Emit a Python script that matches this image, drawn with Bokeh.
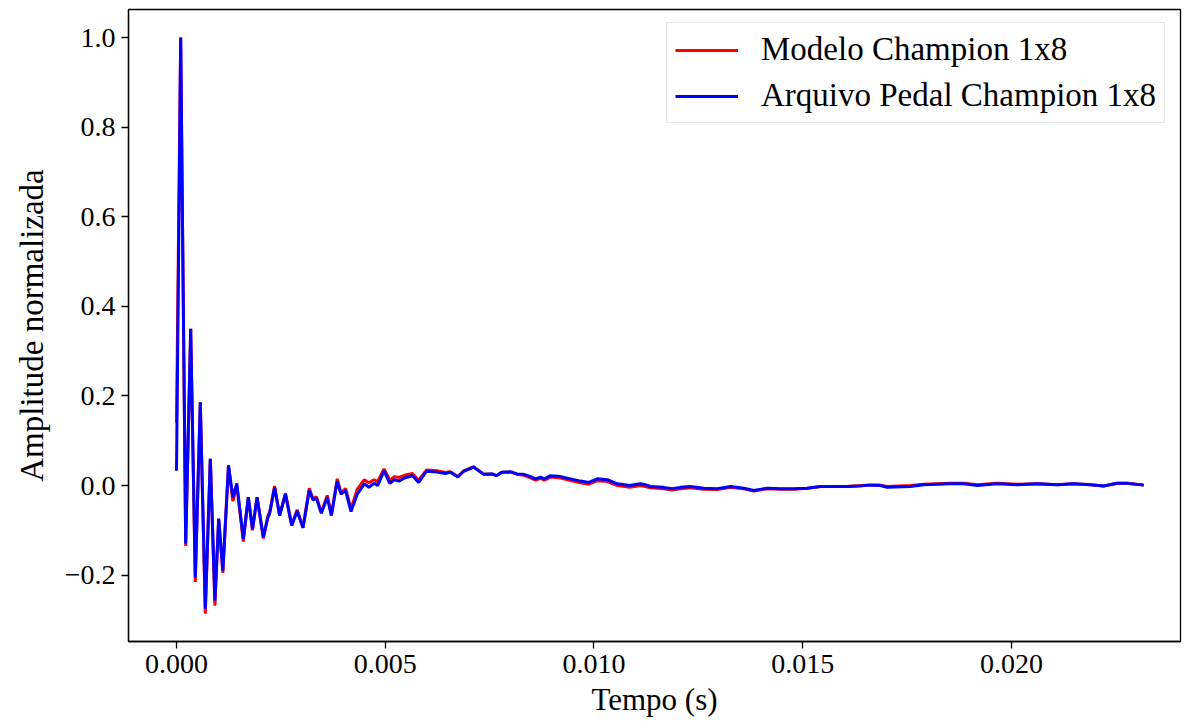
from bokeh.plotting import figure
from bokeh.models import FixedTicker, Range1d, Legend, LegendItem, ColumnDataSource
from bokeh.embed import file_html
from bokeh.resources import INLINE

# Impulse responses (time in seconds, normalized amplitude)
tempo = [
    0.00000, 0.00010, 0.00022, 0.00034, 0.00045, 0.00057, 0.00069, 0.00081, 0.00092, 0.00101,
    0.00111, 0.001245, 0.00135, 0.001445, 0.00160, 0.00172, 0.00182, 0.00193, 0.00208, 0.00219,
    0.00223, 0.00235, 0.00247, 0.00261, 0.00276, 0.00289, 0.00303, 0.00318, 0.00327, 0.00335,
    0.00347, 0.00361, 0.00371, 0.00385, 0.00394, 0.00405, 0.00418, 0.00433, 0.00450, 0.00461,
    0.00473, 0.00482, 0.00497, 0.00511, 0.00522, 0.00533, 0.00546, 0.00565, 0.00580, 0.00599,
    0.00624, 0.00644, 0.00656, 0.00674, 0.00688, 0.00712, 0.00736, 0.00756, 0.00766, 0.00780,
    0.00800, 0.00816, 0.00832, 0.00848, 0.00860, 0.00872, 0.00881, 0.00896, 0.00920, 0.00944,
    0.00968, 0.00988, 0.01008, 0.01032, 0.01056, 0.01086, 0.01111, 0.01123, 0.01135, 0.01167,
    0.01187, 0.01207, 0.01231, 0.01263, 0.01295, 0.01327, 0.01359, 0.01383, 0.01415, 0.01447,
    0.01479, 0.01511, 0.01543, 0.01574, 0.01606, 0.01638, 0.01658, 0.01686, 0.01702, 0.01758,
    0.01790, 0.01854, 0.01886, 0.01918, 0.01966, 0.02014, 0.02062, 0.02110, 0.02149, 0.02189,
    0.02221, 0.02253, 0.02277, 0.02317,
]

modelo = [
    0.140, 1.000, -0.135, 0.350, -0.215, 0.186, -0.286, 0.060, -0.268, -0.074,
    -0.195, 0.045, -0.035, 0.000, -0.125, -0.026, -0.100, -0.026, -0.118, -0.067,
    -0.060, -0.001, -0.067, -0.017, -0.089, -0.054, -0.094, -0.006, -0.030, -0.025,
    -0.060, -0.022, -0.065, 0.015, -0.016, -0.007, -0.052, -0.008, 0.013, 0.006,
    0.013, 0.009, 0.037, 0.012, 0.020, 0.018, 0.023, 0.027, 0.012, 0.035,
    0.033, 0.029, 0.031, 0.020, 0.033, 0.042, 0.025, 0.026, 0.022, 0.030,
    0.030, 0.025, 0.023, 0.017, 0.012, 0.016, 0.012, 0.019, 0.017, 0.011,
    0.006, 0.003, 0.011, 0.009, 0.000, -0.004, 0.000, -0.002, -0.005, -0.007,
    -0.010, -0.007, -0.005, -0.008, -0.009, -0.004, -0.007, -0.012, -0.007, -0.008,
    -0.008, -0.006, -0.002, -0.002, -0.002, 0.000, 0.001, 0.001, -0.002, 0.000,
    0.003, 0.005, 0.005, 0.002, 0.005, 0.003, 0.004, 0.002, 0.004, 0.002,
    -0.001, 0.005, 0.005, 0.001,
]

arquivo = [
    0.033, 1.000, -0.130, 0.350, -0.205, 0.186, -0.275, 0.060, -0.257, -0.074,
    -0.190, 0.045, -0.026, 0.005, -0.119, -0.026, -0.097, -0.026, -0.115, -0.071,
    -0.063, -0.004, -0.067, -0.019, -0.089, -0.057, -0.094, -0.011, -0.032, -0.028,
    -0.062, -0.026, -0.067, 0.010, -0.019, -0.011, -0.058, -0.019, 0.004, -0.004,
    0.005, 0.000, 0.033, 0.005, 0.013, 0.010, 0.017, 0.022, 0.007, 0.032,
    0.030, 0.027, 0.030, 0.019, 0.032, 0.041, 0.025, 0.026, 0.022, 0.030,
    0.031, 0.026, 0.025, 0.020, 0.015, 0.019, 0.015, 0.022, 0.020, 0.015,
    0.010, 0.007, 0.015, 0.013, 0.004, 0.000, 0.004, 0.002, -0.002, -0.004,
    -0.007, -0.004, -0.002, -0.006, -0.007, -0.002, -0.006, -0.011, -0.006, -0.007,
    -0.007, -0.006, -0.002, -0.002, -0.002, -0.001, 0.001, 0.000, -0.004, -0.002,
    0.002, 0.004, 0.004, 0.000, 0.004, 0.002, 0.004, 0.002, 0.004, 0.002,
    -0.001, 0.005, 0.005, 0.001,
]

serie_labels = ["Modelo Champion 1x8", "Arquivo Pedal Champion 1x8"]
x_ticks = [0.000, 0.005, 0.010, 0.015, 0.020]
y_ticks = [-0.2, 0.0, 0.2, 0.4, 0.6, 0.8, 1.0]

FONT = "Liberation Serif"

src = ColumnDataSource(dict(t=tempo, modelo=modelo, arquivo=arquivo))

p = figure(
    width=1188, height=728,
    x_range=Range1d(-0.00115, 0.02405),
    y_range=Range1d(-0.348, 1.0625),
    output_backend="svg", toolbar_location=None,
    min_border_left=128, min_border_right=8, min_border_top=9, min_border_bottom=87,
)
p.background_fill_color = "white"
p.border_fill_color = "white"
p.grid.visible = False
p.outline_line_color = "black"
p.outline_line_width = 1.3

r_mod = p.line("t", "modelo", source=src, line_color="red", line_width=3)
r_arq = p.line("t", "arquivo", source=src, line_color="blue", line_width=3)

p.xaxis.ticker = FixedTicker(ticks=x_ticks)
p.xaxis.major_label_overrides = {v: f"{v:.3f}" for v in x_ticks}
p.yaxis.ticker = FixedTicker(ticks=y_ticks)
p.yaxis.major_label_overrides = {
    v: (f"{v:.1f}".replace("-", "\u2212")) for v in y_ticks
}

for ax in (p.xaxis[0], p.yaxis[0]):
    ax.axis_line_color = "black"
    ax.axis_line_width = 1.3
    ax.major_tick_line_color = "black"
    ax.major_tick_line_width = 1.3
    ax.major_tick_out = 7
    ax.major_tick_in = 0
    ax.minor_tick_line_color = None
    ax.major_label_text_font = FONT
    ax.major_label_text_font_size = "28px"
    ax.major_label_text_color = "black"
    ax.axis_label_text_font = FONT
    ax.axis_label_text_font_style = "normal"
    ax.axis_label_text_color = "black"

p.xaxis.axis_label = "Tempo (s)"
p.yaxis.axis_label = "Amplitude normalizada"
p.xaxis.axis_label_text_font_size = "31px"
p.yaxis.axis_label_text_font_size = "33px"
p.xaxis.major_label_standoff = 6
p.yaxis.major_label_standoff = 6
p.xaxis.axis_label_standoff = 6
p.yaxis.axis_label_standoff = 12

legend = Legend(
    items=[
        LegendItem(label=serie_labels[0], renderers=[r_mod]),
        LegendItem(label=serie_labels[1], renderers=[r_arq]),
    ],
    location=(538, 518),
    label_text_font=FONT,
    label_text_font_size="33px",
    label_text_color="black",
    glyph_width=63,
    glyph_height=28,
    label_height=28,
    label_standoff=23,
    spacing=9,
    padding=8,
    margin=0,
    border_line_color="#cccccc",
    border_line_width=1.3,
    background_fill_color="white",
    background_fill_alpha=0.8,
)
p.add_layout(legend)

open("out.html", "w").write(file_html(p, INLINE))
